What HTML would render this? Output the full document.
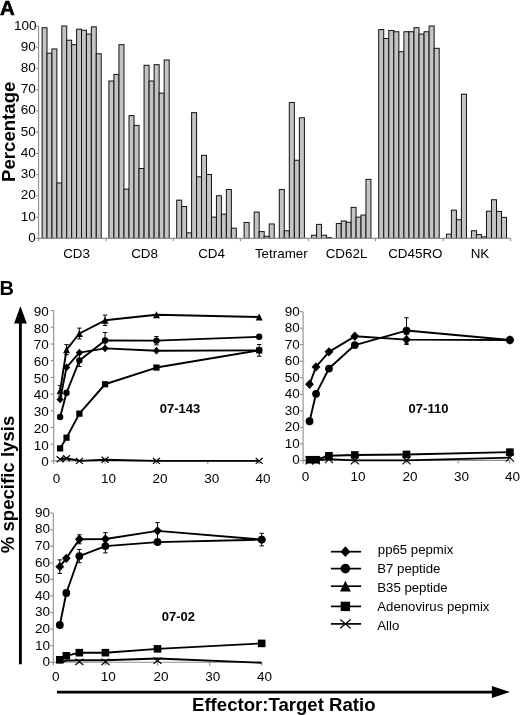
<!DOCTYPE html>
<html><head><meta charset="utf-8"><style>
html,body{margin:0;padding:0;background:#fff;}
body{width:520px;height:715px;overflow:hidden;}
svg{display:block;filter:blur(0.35px);font-family:"Liberation Sans",sans-serif;}
</style></head><body>
<svg width="520" height="715" viewBox="0 0 520 715">
<rect width="520" height="715" fill="#fff"/>
<g fill="#c4c4c4" stroke="#111" stroke-width="1">
<rect x="42.1" y="27.7" width="4.92" height="210.7"/>
<rect x="47.02" y="53.19" width="4.92" height="185.21"/>
<rect x="51.95" y="48.94" width="4.92" height="189.46"/>
<rect x="56.88" y="182.96" width="4.92" height="55.44"/>
<rect x="61.8" y="26" width="4.92" height="212.4"/>
<rect x="66.72" y="40.23" width="4.92" height="198.17"/>
<rect x="71.65" y="44.69" width="4.92" height="193.71"/>
<rect x="76.58" y="29.19" width="4.92" height="209.21"/>
<rect x="81.5" y="30.25" width="4.92" height="208.15"/>
<rect x="86.42" y="34.07" width="4.92" height="204.33"/>
<rect x="91.35" y="26.85" width="4.92" height="211.55"/>
<rect x="96.28" y="53.82" width="4.92" height="184.58"/>
<rect x="108.9" y="81.01" width="5.02" height="157.39"/>
<rect x="113.93" y="74.43" width="5.02" height="163.97"/>
<rect x="118.95" y="44.69" width="5.02" height="193.71"/>
<rect x="123.97" y="189.12" width="5.02" height="49.28"/>
<rect x="129" y="115.63" width="5.02" height="122.77"/>
<rect x="134.03" y="125.4" width="5.02" height="113"/>
<rect x="139.05" y="168.52" width="5.02" height="69.88"/>
<rect x="144.07" y="65.29" width="5.02" height="173.11"/>
<rect x="149.1" y="81.01" width="5.02" height="157.39"/>
<rect x="154.12" y="64.66" width="5.02" height="173.74"/>
<rect x="159.15" y="93.12" width="5.02" height="145.28"/>
<rect x="164.17" y="59.98" width="5.02" height="178.42"/>
<rect x="176.7" y="200.17" width="4.97" height="38.23"/>
<rect x="181.67" y="206.54" width="4.97" height="31.86"/>
<rect x="186.63" y="232.88" width="4.97" height="5.52"/>
<rect x="191.6" y="112.66" width="4.97" height="125.74"/>
<rect x="196.57" y="176.8" width="4.97" height="61.6"/>
<rect x="201.53" y="155.35" width="4.97" height="83.05"/>
<rect x="206.5" y="174.47" width="4.97" height="63.93"/>
<rect x="211.47" y="217.16" width="4.97" height="21.24"/>
<rect x="216.43" y="195.71" width="4.97" height="42.69"/>
<rect x="221.4" y="214.19" width="4.97" height="24.21"/>
<rect x="226.37" y="189.55" width="4.97" height="48.85"/>
<rect x="231.33" y="228.2" width="4.97" height="10.2"/>
<rect x="244.1" y="222.47" width="5.02" height="15.93"/>
<rect x="254.15" y="212.06" width="5.02" height="26.34"/>
<rect x="259.18" y="231.6" width="5.02" height="6.8"/>
<rect x="264.2" y="236.28" width="5.02" height="2.12"/>
<rect x="269.22" y="223.96" width="5.02" height="14.44"/>
<rect x="279.27" y="189.55" width="5.02" height="48.85"/>
<rect x="284.3" y="230.75" width="5.02" height="7.65"/>
<rect x="289.32" y="102.46" width="5.02" height="135.94"/>
<rect x="294.35" y="160.24" width="5.02" height="78.16"/>
<rect x="299.38" y="117.76" width="5.02" height="120.64"/>
<rect x="311.6" y="235.21" width="4.94" height="3.19"/>
<rect x="316.54" y="224.38" width="4.94" height="14.02"/>
<rect x="321.48" y="235.21" width="4.94" height="3.19"/>
<rect x="326.43" y="237.55" width="4.94" height="0.85"/>
<rect x="336.31" y="223.53" width="4.94" height="14.87"/>
<rect x="341.25" y="220.98" width="4.94" height="17.42"/>
<rect x="346.19" y="222.26" width="4.94" height="16.14"/>
<rect x="351.13" y="207.39" width="4.94" height="31.01"/>
<rect x="356.07" y="217.16" width="4.94" height="21.24"/>
<rect x="361.02" y="215.04" width="4.94" height="23.36"/>
<rect x="365.96" y="179.35" width="4.94" height="59.05"/>
<rect x="378.7" y="29.61" width="5.04" height="208.79"/>
<rect x="383.74" y="38.53" width="5.04" height="199.87"/>
<rect x="388.78" y="30.46" width="5.04" height="207.94"/>
<rect x="393.82" y="31.73" width="5.04" height="206.67"/>
<rect x="398.87" y="51.7" width="5.04" height="186.7"/>
<rect x="403.91" y="31.73" width="5.04" height="206.67"/>
<rect x="408.95" y="31.73" width="5.04" height="206.67"/>
<rect x="413.99" y="27.7" width="5.04" height="210.7"/>
<rect x="419.03" y="34.07" width="5.04" height="204.33"/>
<rect x="424.07" y="31.73" width="5.04" height="206.67"/>
<rect x="429.12" y="26" width="5.04" height="212.4"/>
<rect x="434.16" y="48.3" width="5.04" height="190.1"/>
<rect x="446.4" y="234.15" width="5.01" height="4.25"/>
<rect x="451.41" y="210.15" width="5.01" height="28.25"/>
<rect x="456.42" y="219.71" width="5.01" height="18.69"/>
<rect x="461.42" y="94.18" width="5.01" height="144.22"/>
<rect x="471.44" y="230.75" width="5.01" height="7.65"/>
<rect x="476.45" y="234.58" width="5.01" height="3.82"/>
<rect x="481.46" y="236.91" width="5.01" height="1.49"/>
<rect x="486.47" y="211.21" width="5.01" height="27.19"/>
<rect x="491.48" y="199.74" width="5.01" height="38.66"/>
<rect x="496.48" y="211.43" width="5.01" height="26.97"/>
<rect x="501.49" y="217.37" width="5.01" height="21.03"/>
</g>
<g stroke="#8e8e8e" stroke-width="1.1" fill="none">
<line x1="38.6" y1="26" x2="38.6" y2="238.4"/>
<line x1="38.6" y1="238.4" x2="510.6" y2="238.4"/>
<line x1="36.2" y1="238.4" x2="38.6" y2="238.4"/>
<line x1="36.2" y1="217.16" x2="38.6" y2="217.16"/>
<line x1="36.2" y1="195.92" x2="38.6" y2="195.92"/>
<line x1="36.2" y1="174.68" x2="38.6" y2="174.68"/>
<line x1="36.2" y1="153.44" x2="38.6" y2="153.44"/>
<line x1="36.2" y1="132.2" x2="38.6" y2="132.2"/>
<line x1="36.2" y1="110.96" x2="38.6" y2="110.96"/>
<line x1="36.2" y1="89.72" x2="38.6" y2="89.72"/>
<line x1="36.2" y1="68.48" x2="38.6" y2="68.48"/>
<line x1="36.2" y1="47.24" x2="38.6" y2="47.24"/>
<line x1="36.2" y1="26" x2="38.6" y2="26"/>
<line x1="38.6" y1="238.4" x2="38.6" y2="241.2"/>
<line x1="106.1" y1="238.4" x2="106.1" y2="241.2"/>
<line x1="173.3" y1="238.4" x2="173.3" y2="241.2"/>
<line x1="240.4" y1="238.4" x2="240.4" y2="241.2"/>
<line x1="308.6" y1="238.4" x2="308.6" y2="241.2"/>
<line x1="375.5" y1="238.4" x2="375.5" y2="241.2"/>
<line x1="443.3" y1="238.4" x2="443.3" y2="241.2"/>
<line x1="510.6" y1="238.4" x2="510.6" y2="241.2"/>
</g>
<g font-size="13.5" text-anchor="end">
<text x="35.7" y="241.9">0</text>
<text x="35.7" y="220.66">10</text>
<text x="35.7" y="199.42">20</text>
<text x="35.7" y="178.18">30</text>
<text x="35.7" y="156.94">40</text>
<text x="35.7" y="135.7">50</text>
<text x="35.7" y="114.46">60</text>
<text x="35.7" y="93.22">70</text>
<text x="35.7" y="71.98">80</text>
<text x="35.7" y="50.74">90</text>
<text x="36.6" y="29.5">100</text>
</g>
<g font-size="13.4">
<text x="63.2" y="257.9">CD3</text>
<text x="131.15" y="257.9">CD8</text>
<text x="198.15" y="257.9">CD4</text>
<text x="254.9" y="257.9">Tetramer</text>
<text x="325.65" y="257.9">CD62L</text>
<text x="388.15" y="257.9">CD45RO</text>
<text x="470.65" y="257.9">NK</text>
</g>
<text transform="translate(14.6,131.8) rotate(-90)" text-anchor="middle" font-size="18.6" font-weight="bold">Percentage</text>
<text x="0.1" y="14.5" font-size="20.4" font-weight="bold" stroke="#000" stroke-width="0.6">A</text>
<text x="-0.5" y="294.6" font-size="20" font-weight="bold">B</text>
<g stroke="#8e8e8e" stroke-width="1.1" fill="none">
<line x1="53.7" y1="310.6" x2="53.7" y2="464.1"/>
<line x1="53.7" y1="460.9" x2="259.18" y2="460.9"/>
<line x1="50.7" y1="460.9" x2="53.7" y2="460.9"/>
<line x1="50.7" y1="444.2" x2="53.7" y2="444.2"/>
<line x1="50.7" y1="427.5" x2="53.7" y2="427.5"/>
<line x1="50.7" y1="410.8" x2="53.7" y2="410.8"/>
<line x1="50.7" y1="394.1" x2="53.7" y2="394.1"/>
<line x1="50.7" y1="377.4" x2="53.7" y2="377.4"/>
<line x1="50.7" y1="360.7" x2="53.7" y2="360.7"/>
<line x1="50.7" y1="344" x2="53.7" y2="344"/>
<line x1="50.7" y1="327.3" x2="53.7" y2="327.3"/>
<line x1="50.7" y1="310.6" x2="53.7" y2="310.6"/>
<line x1="105.07" y1="460.9" x2="105.07" y2="464.1"/>
<line x1="156.44" y1="460.9" x2="156.44" y2="464.1"/>
<line x1="207.81" y1="460.9" x2="207.81" y2="464.1"/>
<line x1="259.18" y1="460.9" x2="259.18" y2="464.1"/>
</g>
<g font-size="13.5" text-anchor="end">
<text x="48.8" y="466.2">0</text>
<text x="48.8" y="449.5">10</text>
<text x="48.8" y="432.8">20</text>
<text x="48.8" y="416.1">30</text>
<text x="48.8" y="399.4">40</text>
<text x="48.8" y="382.7">50</text>
<text x="48.8" y="366">60</text>
<text x="48.8" y="349.3">70</text>
<text x="48.8" y="332.6">80</text>
<text x="48.8" y="315.9">90</text>
</g>
<g font-size="13.5" text-anchor="middle">
<text x="56.6" y="482.8">0</text>
<text x="108.5" y="482.8">10</text>
<text x="159.9" y="482.8">20</text>
<text x="211.8" y="482.8">30</text>
<text x="263" y="482.8">40</text>
</g>
<path d="M60.12 448.38L66.54 437.69L79.39 413.64L105.07 384.25L156.44 367.55L259.18 350.35" fill="none" stroke="#000" stroke-width="1.9" stroke-linejoin="round"/>
<g stroke="#000" stroke-width="1" fill="none">
<path d="M259.18 344.5L259.18 356.19M256.98 344.5L261.38 344.5M256.98 356.19L261.38 356.19"/>
</g>
<g fill="#000">
<rect x="57.01" y="445.26" width="6.23" height="6.23"/>
<rect x="63.43" y="434.57" width="6.23" height="6.23"/>
<rect x="76.27" y="410.52" width="6.23" height="6.23"/>
<rect x="101.95" y="381.13" width="6.23" height="6.23"/>
<rect x="153.32" y="364.43" width="6.23" height="6.23"/>
<rect x="256.06" y="347.23" width="6.23" height="6.23"/>
</g>
<path d="M60.12 399.44L66.54 367.38L79.39 352.68L105.07 348.34L156.44 350.68L259.18 350.35" fill="none" stroke="#000" stroke-width="1.9" stroke-linejoin="round"/>
<g fill="#000">
<path d="M60.12 395.59L63.73 399.44L60.12 403.3L56.51 399.44Z"/>
<path d="M66.54 363.53L70.15 367.38L66.54 371.23L62.93 367.38Z"/>
<path d="M79.39 348.83L82.99 352.68L79.39 356.54L75.78 352.68Z"/>
<path d="M105.07 344.49L108.68 348.34L105.07 352.2L101.46 348.34Z"/>
<path d="M156.44 346.83L160.05 350.68L156.44 354.53L152.83 350.68Z"/>
<path d="M259.18 346.49L262.79 350.35L259.18 354.2L255.57 350.35Z"/>
</g>
<path d="M60.12 416.98L66.54 392.76L79.39 360.53L105.07 340.49L156.44 340.66L259.18 336.82" fill="none" stroke="#000" stroke-width="1.9" stroke-linejoin="round"/>
<g stroke="#000" stroke-width="1" fill="none">
<path d="M79.39 354.52L79.39 366.55M77.19 354.52L81.59 354.52M77.19 366.55L81.59 366.55"/>
<path d="M105.07 332.48L105.07 348.51M102.87 332.48L107.27 332.48M102.87 348.51L107.27 348.51"/>
<path d="M156.44 336.49L156.44 344.84M154.24 336.49L158.64 336.49M154.24 344.84L158.64 344.84"/>
</g>
<g fill="#000">
<circle cx="60.12" cy="416.98" r="3.2"/>
<circle cx="66.54" cy="392.76" r="3.2"/>
<circle cx="79.39" cy="360.53" r="3.2"/>
<circle cx="105.07" cy="340.49" r="3.2"/>
<circle cx="156.44" cy="340.66" r="3.2"/>
<circle cx="259.18" cy="336.82" r="3.2"/>
</g>
<path d="M60.12 390.76L66.54 349.68L79.39 333.48L105.07 320.29L156.44 314.78L259.18 316.95" fill="none" stroke="#000" stroke-width="1.9" stroke-linejoin="round"/>
<g stroke="#000" stroke-width="1" fill="none">
<path d="M60.12 385.58L60.12 395.94M57.92 385.58L62.32 385.58M57.92 395.94L62.32 395.94"/>
<path d="M66.54 344.67L66.54 354.69M64.34 344.67L68.74 344.67M64.34 354.69L68.74 354.69"/>
<path d="M79.39 328.13L79.39 338.82M77.19 328.13L81.59 328.13M77.19 338.82L81.59 338.82"/>
<path d="M105.07 315.11L105.07 325.46M102.87 315.11L107.27 315.11M102.87 325.46L107.27 325.46"/>
</g>
<g fill="#000">
<path d="M60.12 387.26L63.62 394.26L56.62 394.26Z"/>
<path d="M66.54 346.18L70.04 353.18L63.04 353.18Z"/>
<path d="M79.39 329.98L82.89 336.98L75.89 336.98Z"/>
<path d="M105.07 316.79L108.57 323.79L101.57 323.79Z"/>
<path d="M156.44 311.28L159.94 318.28L152.94 318.28Z"/>
<path d="M259.18 313.45L262.68 320.45L255.68 320.45Z"/>
</g>
<path d="M60.12 459.23L66.54 458.23L79.39 460.9L105.07 459.73L156.44 460.9L259.18 460.9" fill="none" stroke="#000" stroke-width="1.9" stroke-linejoin="round"/>
<g fill="#000">
<path d="M56.62 456.25L63.62 462.2M56.62 462.2L63.62 456.25" fill="none" stroke="#000" stroke-width="1.2"/>
<path d="M63.04 455.25L70.04 461.2M63.04 461.2L70.04 455.25" fill="none" stroke="#000" stroke-width="1.2"/>
<path d="M75.89 457.92L82.89 463.88M75.89 463.88L82.89 457.92" fill="none" stroke="#000" stroke-width="1.2"/>
<path d="M101.57 456.76L108.57 462.71M101.57 462.71L108.57 456.76" fill="none" stroke="#000" stroke-width="1.2"/>
<path d="M152.94 457.92L159.94 463.88M152.94 463.88L159.94 457.92" fill="none" stroke="#000" stroke-width="1.2"/>
<path d="M255.68 457.92L262.68 463.88M255.68 463.88L262.68 457.92" fill="none" stroke="#000" stroke-width="1.2"/>
</g>
<text x="159.8" y="413.1" font-size="13" font-weight="bold">07-143</text>
<g stroke="#8e8e8e" stroke-width="1.1" fill="none">
<line x1="303.1" y1="311.7" x2="303.1" y2="463.6"/>
<line x1="303.1" y1="460.4" x2="509.9" y2="460.4"/>
<line x1="300.1" y1="460.4" x2="303.1" y2="460.4"/>
<line x1="300.1" y1="443.88" x2="303.1" y2="443.88"/>
<line x1="300.1" y1="427.36" x2="303.1" y2="427.36"/>
<line x1="300.1" y1="410.83" x2="303.1" y2="410.83"/>
<line x1="300.1" y1="394.31" x2="303.1" y2="394.31"/>
<line x1="300.1" y1="377.79" x2="303.1" y2="377.79"/>
<line x1="300.1" y1="361.27" x2="303.1" y2="361.27"/>
<line x1="300.1" y1="344.74" x2="303.1" y2="344.74"/>
<line x1="300.1" y1="328.22" x2="303.1" y2="328.22"/>
<line x1="300.1" y1="311.7" x2="303.1" y2="311.7"/>
<line x1="354.8" y1="460.4" x2="354.8" y2="463.6"/>
<line x1="406.5" y1="460.4" x2="406.5" y2="463.6"/>
<line x1="458.2" y1="460.4" x2="458.2" y2="463.6"/>
<line x1="509.9" y1="460.4" x2="509.9" y2="463.6"/>
</g>
<g font-size="13.5" text-anchor="end">
<text x="299.8" y="464.4">0</text>
<text x="299.8" y="447.88">10</text>
<text x="299.8" y="431.36">20</text>
<text x="299.8" y="414.83">30</text>
<text x="299.8" y="398.31">40</text>
<text x="299.8" y="381.79">50</text>
<text x="299.8" y="365.27">60</text>
<text x="299.8" y="348.74">70</text>
<text x="299.8" y="332.22">80</text>
<text x="299.8" y="315.7">90</text>
</g>
<g font-size="13.5" text-anchor="middle">
<text x="305.6" y="480.5">0</text>
<text x="358" y="480.5">10</text>
<text x="410" y="480.5">20</text>
<text x="461.6" y="480.5">30</text>
<text x="512.6" y="480.5">40</text>
</g>
<path d="M309.56 459.74L316.03 459.74L328.95 455.77L354.8 454.95L406.5 454.45L509.9 452.14" fill="none" stroke="#000" stroke-width="1.9" stroke-linejoin="round"/>
<g fill="#000">
<rect x="305.76" y="455.94" width="7.6" height="7.6"/>
<rect x="312.23" y="455.94" width="7.6" height="7.6"/>
<rect x="325.15" y="451.97" width="7.6" height="7.6"/>
<rect x="351" y="451.15" width="7.6" height="7.6"/>
<rect x="402.7" y="450.65" width="7.6" height="7.6"/>
<rect x="506.1" y="448.34" width="7.6" height="7.6"/>
</g>
<path d="M309.56 460.4L316.03 460.4L328.95 459.08L354.8 460.4L406.5 460.4L509.9 457.59" fill="none" stroke="#000" stroke-width="1.9" stroke-linejoin="round"/>
<g fill="#000">
<path d="M305.56 456.4L313.56 464.4M305.56 464.4L313.56 456.4" fill="none" stroke="#000" stroke-width="1.2"/>
<path d="M312.03 456.4L320.03 464.4M312.03 464.4L320.03 456.4" fill="none" stroke="#000" stroke-width="1.2"/>
<path d="M324.95 455.08L332.95 463.08M324.95 463.08L332.95 455.08" fill="none" stroke="#000" stroke-width="1.2"/>
<path d="M350.8 456.4L358.8 464.4M350.8 464.4L358.8 456.4" fill="none" stroke="#000" stroke-width="1.2"/>
<path d="M402.5 456.4L410.5 464.4M402.5 464.4L410.5 456.4" fill="none" stroke="#000" stroke-width="1.2"/>
<path d="M505.9 453.59L513.9 461.59M505.9 461.59L513.9 453.59" fill="none" stroke="#000" stroke-width="1.2"/>
</g>
<path d="M309.56 384.23L316.03 366.88L328.95 351.85L354.8 336.32L406.5 339.62L509.9 339.95" fill="none" stroke="#000" stroke-width="1.9" stroke-linejoin="round"/>
<g stroke="#000" stroke-width="1" fill="none">
<path d="M406.5 334.67L406.5 344.58M404.3 334.67L408.7 334.67M404.3 344.58L408.7 344.58"/>
</g>
<g fill="#000">
<path d="M309.56 379.53L313.96 384.23L309.56 388.93L305.16 384.23Z"/>
<path d="M316.03 362.18L320.43 366.88L316.03 371.58L311.63 366.88Z"/>
<path d="M328.95 347.15L333.35 351.85L328.95 356.55L324.55 351.85Z"/>
<path d="M354.8 331.62L359.2 336.32L354.8 341.02L350.4 336.32Z"/>
<path d="M406.5 334.92L410.9 339.62L406.5 344.32L402.1 339.62Z"/>
<path d="M509.9 335.25L514.3 339.95L509.9 344.65L505.5 339.95Z"/>
</g>
<path d="M309.56 421.24L316.03 393.82L328.95 368.54L354.8 345.07L406.5 330.54L509.9 339.95" fill="none" stroke="#000" stroke-width="1.9" stroke-linejoin="round"/>
<g stroke="#000" stroke-width="1" fill="none">
<path d="M406.5 317.81L406.5 343.26M404.3 317.81L408.7 317.81M404.3 343.26L408.7 343.26"/>
</g>
<g fill="#000">
<circle cx="309.56" cy="421.24" r="3.9"/>
<circle cx="316.03" cy="393.82" r="3.9"/>
<circle cx="328.95" cy="368.54" r="3.9"/>
<circle cx="354.8" cy="345.07" r="3.9"/>
<circle cx="406.5" cy="330.54" r="3.9"/>
<circle cx="509.9" cy="339.95" r="3.9"/>
</g>
<text x="408.6" y="413.1" font-size="13" font-weight="bold">07-110</text>
<g stroke="#8e8e8e" stroke-width="1.1" fill="none">
<line x1="53.3" y1="513.1" x2="53.3" y2="665.5"/>
<line x1="53.3" y1="662.3" x2="261.7" y2="662.3"/>
<line x1="50.3" y1="662.3" x2="53.3" y2="662.3"/>
<line x1="50.3" y1="645.72" x2="53.3" y2="645.72"/>
<line x1="50.3" y1="629.14" x2="53.3" y2="629.14"/>
<line x1="50.3" y1="612.57" x2="53.3" y2="612.57"/>
<line x1="50.3" y1="595.99" x2="53.3" y2="595.99"/>
<line x1="50.3" y1="579.41" x2="53.3" y2="579.41"/>
<line x1="50.3" y1="562.83" x2="53.3" y2="562.83"/>
<line x1="50.3" y1="546.26" x2="53.3" y2="546.26"/>
<line x1="50.3" y1="529.68" x2="53.3" y2="529.68"/>
<line x1="50.3" y1="513.1" x2="53.3" y2="513.1"/>
<line x1="105.4" y1="662.3" x2="105.4" y2="665.5"/>
<line x1="157.5" y1="662.3" x2="157.5" y2="665.5"/>
<line x1="209.6" y1="662.3" x2="209.6" y2="665.5"/>
<line x1="261.7" y1="662.3" x2="261.7" y2="665.5"/>
</g>
<g font-size="13.5" text-anchor="end">
<text x="50" y="666.1">0</text>
<text x="50" y="649.52">10</text>
<text x="50" y="632.94">20</text>
<text x="50" y="616.37">30</text>
<text x="50" y="599.79">40</text>
<text x="50" y="583.21">50</text>
<text x="50" y="566.63">60</text>
<text x="50" y="550.06">70</text>
<text x="50" y="533.48">80</text>
<text x="50" y="516.9">90</text>
</g>
<g font-size="13.5" text-anchor="middle">
<text x="55.8" y="680.5">0</text>
<text x="108.2" y="680.5">10</text>
<text x="160.9" y="680.5">20</text>
<text x="212.7" y="680.5">30</text>
<text x="264.6" y="680.5">40</text>
</g>
<path d="M59.81 659.81L66.33 655.83L79.35 652.68L105.4 652.68L157.5 648.87L261.7 643.4" fill="none" stroke="#000" stroke-width="1.9" stroke-linejoin="round"/>
<g fill="#000">
<rect x="56.01" y="656.01" width="7.6" height="7.6"/>
<rect x="62.53" y="652.03" width="7.6" height="7.6"/>
<rect x="75.55" y="648.88" width="7.6" height="7.6"/>
<rect x="101.6" y="648.88" width="7.6" height="7.6"/>
<rect x="153.7" y="645.07" width="7.6" height="7.6"/>
<rect x="257.9" y="639.6" width="7.6" height="7.6"/>
</g>
<path d="M59.81 662.63L66.33 660.64L79.35 660.31L105.4 660.31L157.5 658.49L261.7 662.8" fill="none" stroke="#000" stroke-width="1.9" stroke-linejoin="round"/>
<g fill="#000">
<path d="M75.35 658.6L83.35 665M75.35 665L83.35 658.6" fill="none" stroke="#000" stroke-width="1.2"/>
<path d="M101.4 658.6L109.4 665M101.4 665L109.4 658.6" fill="none" stroke="#000" stroke-width="1.2"/>
<path d="M153.5 657.44L161.5 663.84M153.5 663.84L161.5 657.44" fill="none" stroke="#000" stroke-width="1.2"/>
</g>
<path d="M59.81 625L66.33 593L79.35 556.04L105.4 546.09L157.5 542.11L261.7 539.62" fill="none" stroke="#000" stroke-width="1.9" stroke-linejoin="round"/>
<g stroke="#000" stroke-width="1" fill="none">
<path d="M79.35 549.41L79.35 562.67M77.15 549.41L81.55 549.41M77.15 562.67L81.55 562.67"/>
<path d="M105.4 539.29L105.4 552.89M103.2 539.29L107.6 539.29M103.2 552.89L107.6 552.89"/>
</g>
<g fill="#000">
<circle cx="59.81" cy="625" r="3.9"/>
<circle cx="66.33" cy="593" r="3.9"/>
<circle cx="79.35" cy="556.04" r="3.9"/>
<circle cx="105.4" cy="546.09" r="3.9"/>
<circle cx="157.5" cy="542.11" r="3.9"/>
<circle cx="261.7" cy="539.62" r="3.9"/>
</g>
<path d="M59.81 566.65L66.33 558.36L79.35 539.29L105.4 538.96L157.5 530.84L261.7 539.62" fill="none" stroke="#000" stroke-width="1.9" stroke-linejoin="round"/>
<g stroke="#000" stroke-width="1" fill="none">
<path d="M59.81 559.85L59.81 573.44M57.61 559.85L62.01 559.85M57.61 573.44L62.01 573.44"/>
<path d="M79.35 534.82L79.35 543.77M77.15 534.82L81.55 534.82M77.15 543.77L81.55 543.77"/>
<path d="M105.4 532.66L105.4 545.26M103.2 532.66L107.6 532.66M103.2 545.26L107.6 545.26"/>
<path d="M157.5 522.55L157.5 539.13M155.3 522.55L159.7 522.55M155.3 539.13L159.7 539.13"/>
<path d="M261.7 533.32L261.7 545.92M259.5 533.32L263.9 533.32M259.5 545.92L263.9 545.92"/>
</g>
<g fill="#000">
<path d="M59.81 561.95L64.21 566.65L59.81 571.35L55.41 566.65Z"/>
<path d="M66.33 553.66L70.73 558.36L66.33 563.06L61.93 558.36Z"/>
<path d="M79.35 534.59L83.75 539.29L79.35 543.99L74.95 539.29Z"/>
<path d="M105.4 534.26L109.8 538.96L105.4 543.66L101 538.96Z"/>
<path d="M157.5 526.14L161.9 530.84L157.5 535.54L153.1 530.84Z"/>
<path d="M261.7 534.92L266.1 539.62L261.7 544.32L257.3 539.62Z"/>
</g>
<text x="161.8" y="620.5" font-size="13" font-weight="bold">07-02</text>
<g>
<line x1="330.9" y1="551.7" x2="361.1" y2="551.7" stroke="#000" stroke-width="1.7"/>
<g fill="#000">
<path d="M345.4 546.3L350.3 551.7L345.4 557.1L340.5 551.7Z"/>
</g>
<text x="377.8" y="554" font-size="13.2">pp65 pepmix</text>
<line x1="330.9" y1="568.6" x2="361.1" y2="568.6" stroke="#000" stroke-width="1.7"/>
<g fill="#000">
<circle cx="345.4" cy="568.6" r="4.8"/>
</g>
<text x="377.3" y="572.7" font-size="13.2">B7 peptide</text>
<line x1="330.9" y1="586.2" x2="361.1" y2="586.2" stroke="#000" stroke-width="1.7"/>
<g fill="#000">
<path d="M345.4 580.8L350.8 591.6L340 591.6Z"/>
</g>
<text x="377.3" y="592.2" font-size="13.2">B35 peptide</text>
<line x1="330.9" y1="606.4" x2="361.1" y2="606.4" stroke="#000" stroke-width="1.7"/>
<g fill="#000">
<rect x="340.7" y="601.7" width="9.4" height="9.4"/>
</g>
<text x="377.3" y="610.9" font-size="13.2">Adenovirus pepmix</text>
<line x1="330.9" y1="623.9" x2="361.1" y2="623.9" stroke="#000" stroke-width="1.7"/>
<g fill="#000">
<path d="M340.2 619.48L350.6 628.32M340.2 628.32L350.6 619.48" fill="none" stroke="#000" stroke-width="1.2"/>
</g>
<text x="377.3" y="629.5" font-size="13.2">Allo</text>
</g>
<line x1="20.4" y1="664.3" x2="20.4" y2="320" stroke="#000" stroke-width="2.9"/>
<path d="M20.4 305.9L26.8 323.5L14.1 323.5Z" fill="#000"/>
<line x1="56.9" y1="692.1" x2="495" y2="692.1" stroke="#000" stroke-width="2.8"/>
<path d="M510 692.1L491.9 686.1L491.9 698.1Z" fill="#000"/>
<text transform="translate(14.0,484.5) rotate(-90)" text-anchor="middle" font-size="18.6" font-weight="bold">% specific lysis</text>
<text x="192" y="710.8" font-size="18.6" font-weight="bold">Effector:Target Ratio</text>
</svg>
</body></html>
